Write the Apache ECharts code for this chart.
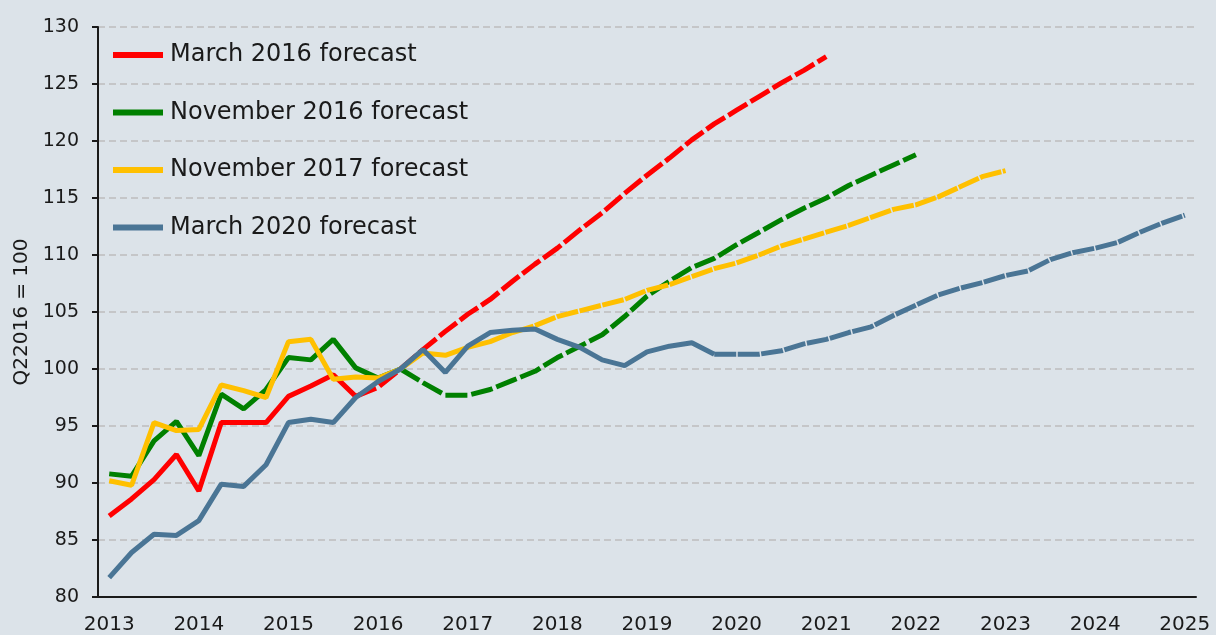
<!DOCTYPE html>
<html>
<head>
<meta charset="utf-8">
<script src="https://cdn.jsdelivr.net/npm/echarts@6/dist/echarts.min.js"></script>
<style>
  html, body { margin: 0; padding: 0; background: #dce3e9; }
  #chart { width: 1216px; height: 635px; }
</style>
</head>
<body>
<div id="chart"></div>
<script>
// x axis: one category per quarter, labelled at Q1 of each year
var years = ['2013', '2014', '2015', '2016', '2017', '2018', '2019',
             '2020', '2021', '2022', '2023', '2024', '2025'];
var quarters = [];
for (var y = 0; y < years.length; y++) {
    for (var q = 1; q <= 4; q++) {
        if (years[y] === '2025' && q > 1) break;
        quarters.push(years[y] + ' Q' + q);
    }
}

// index values, Q2 2016 = 100 (index of last outturn quarter in *Split)
var march2016 = [87.1, 88.6, 90.3, 92.5, 89.3, 95.3, 95.3, 95.3, 97.6, 98.5, 99.5, 97.6,
                 98.4, 100.0, 101.7, 103.3, 104.8, 106.1, 107.7, 109.2, 110.6, 112.2, 113.7, 115.4,
                 117.0, 118.5, 120.1, 121.5, 122.7, 123.9, 125.1, 126.2, 127.4];
var march2016Split = 11;

var nov2016 = [90.8, 90.6, 93.7, 95.4, 92.4, 97.8, 96.5, 98.2, 101.0, 100.8, 102.6, 100.1,
               99.2, 100.0, 98.8, 97.7, 97.7, 98.2, 99.0, 99.8, 101.0, 102.0, 103.0, 104.6,
               106.4, 107.7, 108.9, 109.7, 110.9, 112.0, 113.1, 114.1, 115.0, 116.1, 117.0, 117.9,
               118.8];
var nov2016Split = 13;

var nov2017 = [90.2, 89.8, 95.3, 94.6, 94.7, 98.6, 98.1, 97.5, 102.4, 102.6, 99.1, 99.3,
               99.2, 100.0, 101.4, 101.2, 101.9, 102.4, 103.2, 103.8, 104.6, 105.1, 105.6, 106.1,
               106.9, 107.4, 108.1, 108.8, 109.3, 110.0, 110.8, 111.4, 112.0, 112.6, 113.3, 114.0,
               114.4, 115.1, 116.0, 116.9, 117.4];
var nov2017Split = 18;

var march2020 = [81.7, 83.9, 85.5, 85.4, 86.7, 89.9, 89.7, 91.6, 95.3, 95.6, 95.3, 97.5,
                 98.9, 100.0, 101.7, 99.7, 102.0, 103.2, 103.4, 103.5, 102.6, 101.9, 100.8, 100.3,
                 101.5, 102.0, 102.3, 101.3, 101.3, 101.3, 101.6, 102.2, 102.6, 103.2, 103.7, 104.7,
                 105.6, 106.5, 107.1, 107.6, 108.2, 108.6, 109.6, 110.2, 110.6, 111.1, 112.0, 112.8,
                 113.5];
var march2020Split = 27;

var yTicks = { min: 80, max: 130, step: 5 };

function part(values, split, forecast) {
    return values.map(function (v, i) {
        if (forecast) return i >= split ? v : null;
        return i <= split ? v : null;
    });
}

function pair(name, values, split, color, dash) {
    var base = {
        name: name,
        type: 'line',
        showSymbol: false,
        symbol: 'none',
        connectNulls: false,
        animation: false,
        color: color,
        itemStyle: { color: color },
        emphasis: { disabled: true }
    };
    var solid = Object.assign({}, base, {
        data: part(values, split, false),
        lineStyle: { color: color, width: 5, type: 'solid' }
    });
    var dashed = Object.assign({}, base, {
        data: part(values, split, true),
        lineStyle: { color: color, width: 5, type: dash }
    });
    return [solid, dashed];
}

var myChart = echarts.init(document.getElementById('chart'));
var font = 'DejaVu Sans';
var option = {
    backgroundColor: '#dce3e9',
    animation: false,
    grid: { left: 98, right: 20, top: 27, bottom: 36, containLabel: false },
    legend: {
        orient: 'vertical',
        left: 113,
        top: 43,
        padding: 0,
        icon: 'rect',
        itemWidth: 50,
        itemHeight: 6,
        itemGap: 33.5,
        textStyle: { fontFamily: font, fontSize: 24, color: '#1a1a1a', padding: [0, 0, 0, 2] },
        data: ['March 2016 forecast', 'November 2016 forecast',
               'November 2017 forecast', 'March 2020 forecast']
    },
    xAxis: {
        type: 'category',
        data: quarters,
        boundaryGap: true,
        axisLine: { lineStyle: { color: '#1a1a1a', width: 2 } },
        axisTick: { interval: 3, length: 6, lineStyle: { color: '#1a1a1a', width: 2 } },
        axisLabel: {
            interval: 3,
            margin: 18,
            fontFamily: font,
            fontSize: 20,
            color: '#1a1a1a',
            formatter: function (v) { return v.split(' ')[0]; }
        },
        splitLine: { show: false }
    },
    yAxis: {
        type: 'value',
        min: yTicks.min,
        max: yTicks.max,
        interval: yTicks.step,
        name: 'Q22016 = 100',
        nameLocation: 'middle',
        nameGap: 66,
        nameTextStyle: { fontFamily: font, fontSize: 20, color: '#1a1a1a' },
        axisLine: { show: true, lineStyle: { color: '#1a1a1a', width: 2 } },
        axisTick: { show: true, length: 6, lineStyle: { color: '#1a1a1a', width: 2 } },
        axisLabel: { margin: 19, fontFamily: font, fontSize: 19, color: '#1a1a1a' },
        splitLine: { show: true, lineStyle: { color: '#bdbdbd', width: 1.5, type: [7, 4] } }
    },
    series: [].concat(
        pair('March 2016 forecast', march2016, march2016Split, '#ff0000', [22, 4]),
        pair('November 2016 forecast', nov2016, nov2016Split, '#008000', [22, 4]),
        pair('November 2017 forecast', nov2017, nov2017Split, '#ffc000', [22, 1.5]),
        pair('March 2020 forecast', march2020, march2020Split, '#4a7595', [22, 1.5])
    )
};
myChart.setOption(option);
</script>
</body>
</html>
